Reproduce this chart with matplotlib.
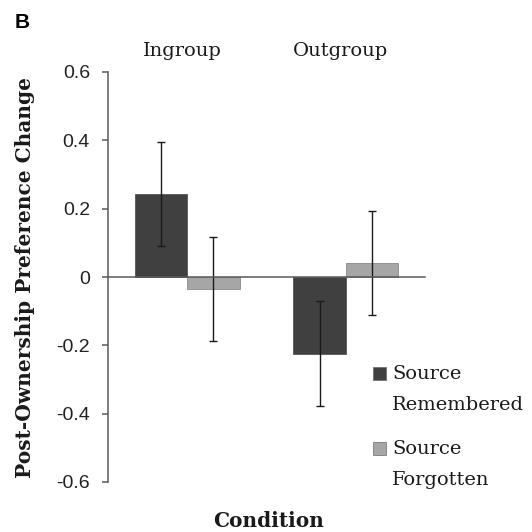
import matplotlib.pyplot as plt
import matplotlib.patches as mpatches
import numpy as np

groups = ['Ingroup', 'Outgroup']
series = ['Source\nRemembered', 'Source\nForgotten']
remembered = [0.244, -0.224]
forgotten = [-0.035, 0.041]
remembered_err = [0.152, 0.153]
forgotten_err = [0.152, 0.153]
yticks = [-0.6, -0.4, -0.2, 0, 0.2, 0.4, 0.6]
ytick_labels = ['-0.6', '-0.4', '-0.2', '0', '0.2', '0.4', '0.6']

colors = ['#404040', '#a6a6a6']
serif = 'DejaVu Serif'
sans = 'Liberation Sans'

fig = plt.figure(figsize=(5.32, 5.32), dpi=100)
ax = fig.add_axes([108 / 532, 1 - 482 / 532, 317 / 532, 410 / 532])

x = np.arange(len(groups))
w = 0.33
ax.bar(x - w / 2, remembered, w, color=colors[0], edgecolor='#555555', linewidth=0.6)
ax.bar(x + w / 2, forgotten, w, color=colors[1], edgecolor='#8a8a8a', linewidth=0.6)
ax.errorbar(x - w / 2, remembered, yerr=remembered_err, fmt='none', ecolor='#1a1a1a',
            elinewidth=1.0, capsize=3, capthick=1.0)
ax.errorbar(x + w / 2, forgotten, yerr=forgotten_err, fmt='none', ecolor='#1a1a1a',
            elinewidth=1.0, capsize=3, capthick=1.0)

ax.set_xlim(-0.5, 1.5)
ax.set_ylim(-0.6, 0.6)

# spines: left axis and zero line
for s in ['top', 'right']:
    ax.spines[s].set_visible(False)
ax.spines['bottom'].set_position(('data', 0))
ax.spines['left'].set_color('#595959')
ax.spines['bottom'].set_color('#595959')
ax.spines['left'].set_linewidth(1.1)
ax.spines['bottom'].set_linewidth(1.1)

ax.set_yticks(yticks)
ax.set_yticklabels(ytick_labels, fontfamily=sans, fontsize=14, color='#222222')
ax.tick_params(axis='y', direction='out', length=4, width=1.1, color='#595959', pad=9)

# category labels on top
ax.xaxis.tick_top()
ax.set_xticks(x - 0.03)
ax.set_xticklabels(groups, fontfamily=serif, fontsize=14, color='#1a1a1a')
ax.tick_params(axis='x', length=0, pad=9)

ax.set_ylabel('Post-Ownership Preference Change', fontfamily=serif, fontsize=14.5,
              fontweight='bold', color='#1a1a1a')
ax.yaxis.set_label_coords(-0.262, 0.5)
ax.yaxis.label.set_va('center')

fig.text(269 / 532, 1 - 521 / 532, 'Condition', fontfamily=serif, fontsize=14.5,
         fontweight='bold', color='#1a1a1a', ha='center', va='center')
fig.text(15 / 532, 1 - 22 / 532, 'B', fontfamily=sans, fontsize=15,
         fontweight='bold', ha='left', va='center')

# legend, handle aligned with first text line
legend_rows = [(373, 367), (373, 442)]
for (lx, ly), lab, c in zip(legend_rows, series, colors):
    fig.patches.append(mpatches.Rectangle((lx / 532, 1 - (ly + 13) / 532), 13 / 532, 13 / 532,
                                          transform=fig.transFigure, facecolor=c,
                                          edgecolor='#666666', linewidth=0.5))
    fig.text((lx + 19) / 532, 1 - (ly - 2) / 532, lab, fontfamily=serif, fontsize=14,
             color='#1a1a1a', ha='left', va='top', linespacing=1.9)

fig.savefig('out.png', dpi=100)
